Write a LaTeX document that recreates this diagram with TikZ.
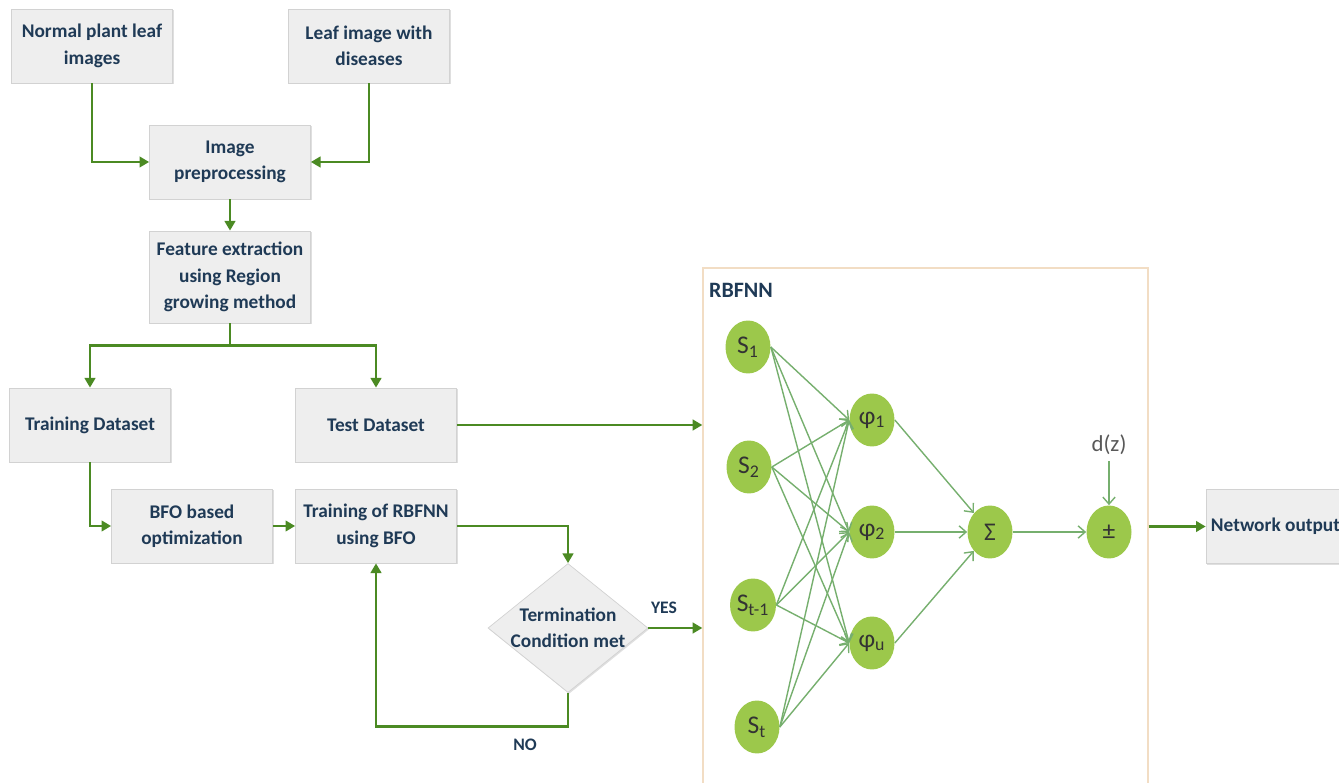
\documentclass[tikz,border=0pt]{standalone}
\usepackage{fontspec}
\setmainfont{Carlito}
\usepackage{xcolor}
\usepackage{tikz}
\usetikzlibrary{shapes.geometric, arrows.meta, positioning, shadows}

\definecolor{boxfill}{HTML}{EEEEEE}
\definecolor{boxline}{HTML}{D2D2D2}
\definecolor{navy}{HTML}{1F3A56}
\definecolor{flowgreen}{HTML}{4B8A23}
\definecolor{nngreen}{HTML}{76AF6E}
\definecolor{neuron}{HTML}{9CC84B}
\definecolor{framecol}{HTML}{F2DDC4}

\begin{document}
\begin{tikzpicture}[
  x=0.02cm, y=-0.02cm,
  font=\fontsize{11}{15}\selectfont\bfseries,
  procbox/.style={draw=boxline, fill=boxfill, minimum width=3.22cm, minimum height=1.48cm,
                  align=center, text=navy, inner sep=2pt,
                  drop shadow={shadow xshift=0.6pt, shadow yshift=-0.8pt, opacity=0.25, fill=gray}},
  decision/.style={diamond, draw=boxline, fill=boxfill, minimum width=3.2cm, minimum height=2.58cm,
                   inner sep=0pt,
                   drop shadow={shadow xshift=0.6pt, shadow yshift=-0.8pt, opacity=0.25, fill=gray}},
  unit/.style={ellipse, fill=neuron, minimum width=0.9cm, minimum height=1.06cm, inner sep=0pt,
               text=black!80, font=\fontsize{14.5}{16}\selectfont},
  arrow/.style={-{Triangle[length=5.5pt, width=6pt]}, line width=1.7pt, draw=flowgreen},
  nnarrow/.style={-{Straight Barb[length=4pt, width=7pt]}, line width=0.8pt, draw=nngreen},
  tag/.style={text=navy, font=\fontsize{10}{12}\selectfont\bfseries},
]
\useasboundingbox (0,0) rectangle (1339,783);

%% ── Inputs and preprocessing ─────────────────────────────────────────────
\node[procbox] (normal) at (92, 46)  {Normal plant leaf\\images};
\node[procbox] (leaf)   at (369, 46) {Leaf image with\\diseases};
\node[procbox] (prep)   at (230, 162) {Image\\preprocessing};
\node[procbox, minimum height=1.84cm] (feat) at (230, 277)
  {Feature extraction\\using Region\\growing method};

%% ── Datasets and training ────────────────────────────────────────────────
\node[procbox] (train) at (90, 425)  {Training Dataset};
\node[procbox] (test)  at (376, 425) {Test Dataset};
\node[procbox] (bfo)   at (192, 526) {BFO based\\optimization};
\node[procbox] (trbf)  at (376, 526) {Training of RBFNN\\using BFO};
\node[decision, label={[text=navy, align=center]center:Termination\\Condition met}]
  (cond) at (568, 628) {};

\node[tag] (yes) at (664, 608) {YES};
\node[tag] (no)  at (525, 745) {NO};

%% ── RBFNN frame ──────────────────────────────────────────────────────────
\node[draw=framecol, line width=0.8pt, minimum width=8.9cm, minimum height=10.44cm]
  (rbf) at (925.5, 529) {};
\node[text=navy, font=\fontsize{12.5}{14}\selectfont\bfseries] (rbftitle) at (741, 290) {RBFNN};

%% ── Network units ────────────────────────────────────────────────────────
\node[unit] (s1)   at (748, 347) {S\textsubscript{1}};
\node[unit] (s2)   at (749, 467) {S\textsubscript{2}};
\node[unit] (st1)  at (753, 605) {S\textsubscript{t-1}};
\node[unit] (st)   at (757, 727) {S\textsubscript{t}};
\node[unit] (phi1) at (872, 420) {φ\textsubscript{1}};
\node[unit] (phi2) at (872, 532) {φ\textsubscript{2}};
\node[unit] (phiu) at (872, 643) {φ\textsubscript{u}};
\node[unit] (sum)  at (990, 532) {Σ};
\node[unit] (pm)   at (1109, 532) {±};
\node[text=black!65, font=\fontsize{13}{14}\selectfont] (dz) at (1109, 445) {d(z)};

\node[procbox, minimum width=2.78cm] (netout) at (1275.5, 526.5) {Network output};

%% ── Flow arrows ──────────────────────────────────────────────────────────
\draw[arrow] (normal.south) |- (prep.west);
\draw[arrow] (leaf.south)   |- (prep.east);
\draw[arrow] (prep)         -- (feat);
\draw[arrow] (feat.south) -- ++(0, 22) -| (train.north);
\draw[arrow] (feat.south) -- ++(0, 22) -| (test.north);
\draw[arrow] (train.south) |- (bfo.west);
\draw[arrow] (bfo)         -- (trbf);
\draw[arrow] (trbf.east)   -| (cond.north);
\draw[arrow] (cond.south) -- ++(0, 34) -| (trbf.south);
\draw[arrow] (cond.east)  -- (cond.east -| rbf.west);
\draw[arrow] (test.east)  -- (test.east -| rbf.west);
\draw[arrow] (netout.west -| rbf.east) -- (netout.west);

%% ── Network connections ──────────────────────────────────────────────────
\foreach \s in {s1, s2, st1, st}
  \foreach \p in {phi1, phi2, phiu}
    \draw[nnarrow] (\s.east) -- (\p.west);
\foreach \p in {phi1, phi2, phiu}
  \draw[nnarrow] (\p.east) -- (sum);
\draw[nnarrow] (sum) -- (pm);
\draw[nnarrow] (dz.south) -- (pm.north);

\end{tikzpicture}
\end{document}
